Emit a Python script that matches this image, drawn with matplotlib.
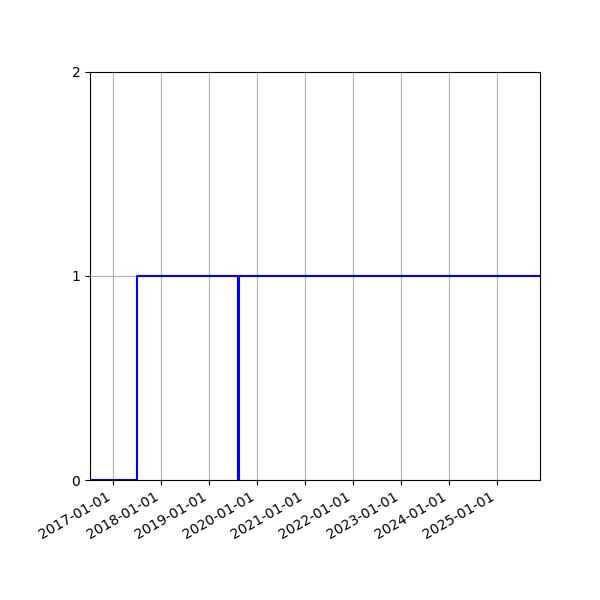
import matplotlib
matplotlib.use("Agg")
import matplotlib.pyplot as plt
import matplotlib.dates as mdates
import numpy as np

dates = np.array(["2016-07-10", "2017-07-02", "2019-08-08", "2019-08-15", "2025-11-22"], dtype="datetime64[D]")
values = [0, 1, 0, 1, 1]
yticks = [0, 1, 2]

fig = plt.figure(figsize=(6, 6), dpi=100)
ax = fig.add_axes([0.15, 0.2, 0.75, 0.68])
ax.step(dates, values, where="post", color="blue", linewidth=1.5)
ax.set_xlim(dates[0], dates[-1])
ax.set_ylim(0, 2)
ax.set_yticks(yticks)
ax.xaxis.set_major_locator(mdates.YearLocator())
ax.xaxis.set_major_formatter(mdates.DateFormatter("%Y-%m-%d"))
ax.grid(True)
for lbl in ax.get_xticklabels():
    lbl.set_rotation(30)
    lbl.set_ha("right")
fig.savefig("out.png", dpi=100)
